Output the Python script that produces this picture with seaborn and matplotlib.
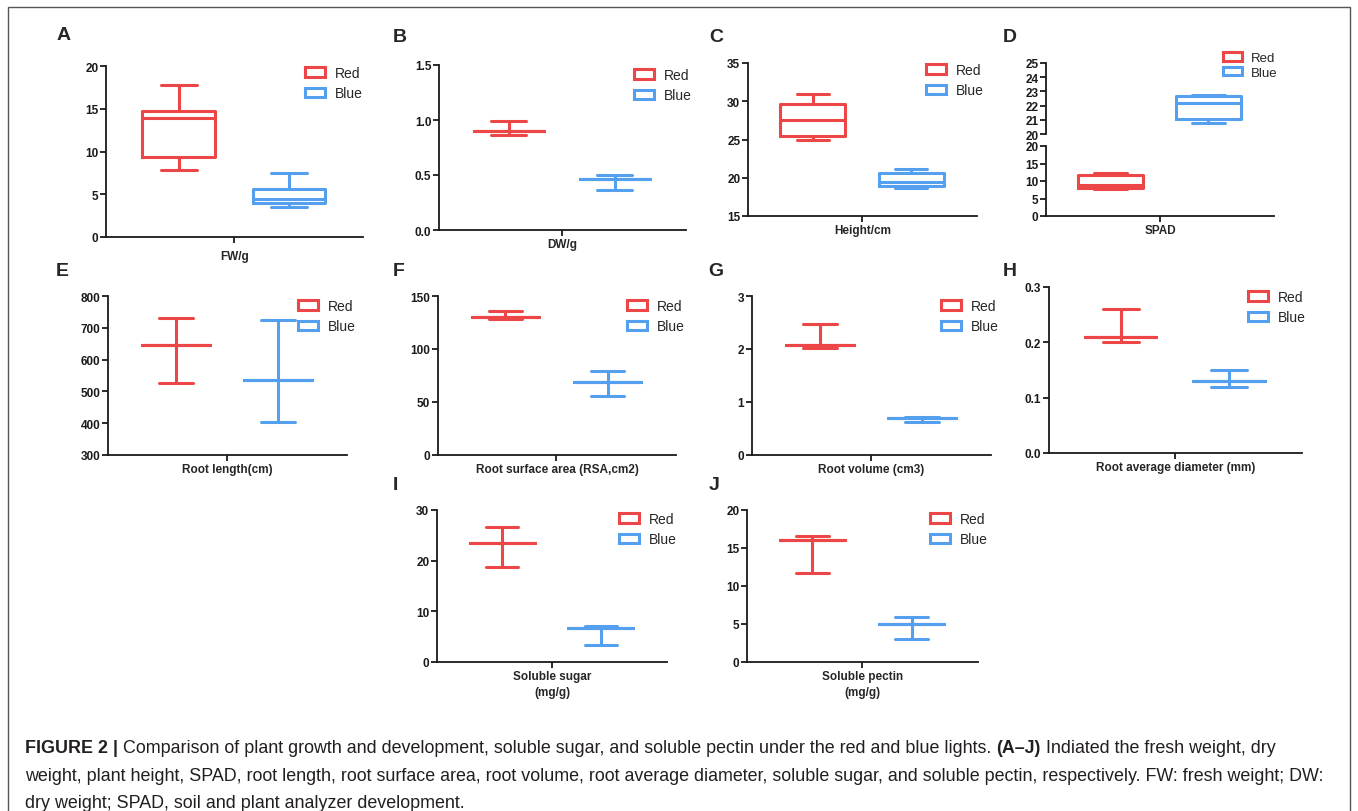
import pandas as pd
import seaborn as sns
import matplotlib.pyplot as plt
from matplotlib.patches import Patch, Rectangle

# Box panels: min, Q1, median, Q3, max
fw_red = [7.8, 9.35, 13.9, 14.7, 17.8]
fw_blue = [3.55, 4.0, 4.45, 5.6, 7.5]
height_red = [25.0, 25.4, 27.5, 29.6, 31.0]
height_blue = [18.7, 18.95, 19.45, 20.6, 21.1]
spad_red = [7.7, 7.9, 8.8, 11.6, 12.2]
spad_blue = [20.8, 21.05, 22.2, 22.65, 22.75]

# Range panels: low, mean, high
dw_red = [0.86, 0.90, 0.99]
dw_blue = [0.36, 0.46, 0.50]
length_red = [525, 646, 730]
length_blue = [405, 537, 723]
rsa_red = [128, 130, 136]
rsa_blue = [56, 68.5, 79.5]
volume_red = [2.01, 2.08, 2.48]
volume_blue = [0.62, 0.69, 0.71]
diam_red = [0.20, 0.21, 0.26]
diam_blue = [0.12, 0.13, 0.15]
sugar_red = [18.8, 23.5, 26.7]
sugar_blue = [3.3, 6.8, 7.1]
pectin_red = [11.7, 16.1, 16.6]
pectin_blue = [3.0, 5.0, 5.9]

groups = ["Red", "Blue"]
palette = {"Red": "#EC4646", "Blue": "#55A0EE"}

# letter, x label, red, blue, y limits, y ticks
panels = [
    ("A", "FW/g", fw_red, fw_blue, (0, 20), [0, 5, 10, 15, 20]),
    ("B", "DW/g", dw_red, dw_blue, (0, 1.5), [0.0, 0.5, 1.0, 1.5]),
    ("C", "Height/cm", height_red, height_blue, (15, 35), [15, 20, 25, 30, 35]),
    ("E", "Root length(cm)", length_red, length_blue, (300, 800), [300, 400, 500, 600, 700, 800]),
    ("F", "Root surface area (RSA,cm2)", rsa_red, rsa_blue, (0, 150), [0, 50, 100, 150]),
    ("G", "Root volume (cm3)", volume_red, volume_blue, (0, 3), [0, 1, 2, 3]),
    ("H", "Root average diameter (mm)", diam_red, diam_blue, (0, 0.3), [0.0, 0.1, 0.2, 0.3]),
    ("I", "Soluble sugar\n(mg/g)", sugar_red, sugar_blue, (0, 30), [0, 10, 20, 30]),
    ("J", "Soluble pectin\n(mg/g)", pectin_red, pectin_blue, (0, 20), [0, 5, 10, 15, 20]),
]

# layout in pixels: axes (left, right, top, bottom), legend (x, y), letter (x, y)
layout = {
    "A": ((106, 363, 67, 238), (305, 75), (57, 36)),
    "B": ((439, 686, 66, 231), (634, 77), (393, 37)),
    "C": ((748, 977, 64, 217), (926, 72), (709, 37)),
    "D": ((1046, 1274, 64, 217), (1223, 61), (1003, 37)),
    "E": ((108, 347, 297, 456), (298, 308), (56, 272)),
    "F": ((438, 676, 297, 456), (627, 308), (393, 272)),
    "G": ((752, 991, 297, 456), (941, 308), (708, 272)),
    "H": ((1049, 1302, 288, 454), (1248, 299), (1003, 272)),
    "I": ((437, 667, 511, 663), (619, 521), (393, 486)),
    "J": ((747, 978, 511, 663), (930, 521), (709, 486)),
}

W, H = 1358, 812

sns.set_theme(style="ticks")
plt.rcParams["font.family"] = ["Liberation Sans", "DejaVu Sans"]
plt.rcParams.update({
    "font.weight": "bold",
    "axes.linewidth": 1.3,
    "axes.edgecolor": "#1a1a1a",
    "xtick.major.width": 1.3,
    "ytick.major.width": 1.3,
    "xtick.major.size": 4,
    "ytick.major.size": 4,
    "ytick.major.pad": 1.5,
    "xtick.color": "#1a1a1a",
    "ytick.color": "#1a1a1a",
})


def make_frame(red, blue):
    # a range (low, mean, high) becomes a flat box at the mean
    if len(red) == 3:
        red = [red[0], red[1], red[1], red[1], red[2]]
        blue = [blue[0], blue[1], blue[1], blue[1], blue[2]]
    return pd.DataFrame({"light": ["Red"] * len(red) + ["Blue"] * len(blue),
                         "value": list(red) + list(blue)})


def add_axes(fig, l, r, t, b):
    return fig.add_axes([l / W, 1 - b / H, (r - l) / W, (b - t) / H])


def draw_box(ax, df):
    sns.boxplot(data=df, x="light", y="value", hue="light", order=groups,
                hue_order=groups, palette=palette, fill=False, width=0.66,
                whis=(0, 100), linewidth=2.2, legend=False, ax=ax)
    ax.set_xlim(-0.66, 1.67)
    ax.set_ylabel("")
    ax.set_xlabel("")
    sns.despine(ax=ax)
    ax.tick_params(labelsize=8.5)


def add_legend(ax, fig, pos, size=10, spacing=0.45):
    handles = [Patch(facecolor="white", edgecolor=palette[g], linewidth=2.2, label=g)
               for g in groups]
    ax.legend(handles=handles, loc="upper left",
              bbox_to_anchor=(pos[0] / W, 1 - (pos[1] - 8) / H),
              bbox_transform=fig.transFigure, frameon=False, borderpad=0,
              borderaxespad=0, handlelength=1.45, handleheight=0.65,
              handletextpad=0.7, labelspacing=spacing,
              prop={"weight": "normal", "size": size})


fig = plt.figure(figsize=(W / 100, H / 100), dpi=100)

for letter, xlabel, red, blue, ylim, yticks in panels:
    box, leg, lab = layout[letter]
    ax = add_axes(fig, *box)
    draw_box(ax, make_frame(red, blue))
    ax.set_ylim(*ylim)
    ax.set_yticks(yticks)
    ax.set_xticks([0.5])
    ax.set_xticklabels([""])
    ax.set_xlabel(xlabel, fontsize=8.5, fontweight="bold",
                  labelpad=2 if letter == "A" else -1.5, linespacing=1.4)
    add_legend(ax, fig, leg)
    fig.text(lab[0] / W, 1 - lab[1] / H, letter, fontsize=14, fontweight="bold",
             ha="left", va="center")

# D: broken y axis
(l, r, t, b), leg, lab = layout["D"]
df_spad = make_frame(spad_red, spad_blue)
ax_top = add_axes(fig, l, r, t, 135)
ax_bot = add_axes(fig, l, r, 147, b)
for ax in (ax_top, ax_bot):
    draw_box(ax, df_spad)
ax_top.set_ylim(20, 25)
ax_top.set_yticks([20, 21, 22, 23, 24, 25])
ax_top.spines["bottom"].set_visible(False)
ax_top.set_xticks([])
ax_bot.set_ylim(0, 20)
ax_bot.set_yticks([0, 5, 10, 15, 20])
ax_bot.set_xticks([0.5])
ax_bot.set_xticklabels([""])
ax_bot.set_xlabel("SPAD", fontsize=8.5, fontweight="bold", labelpad=-1.5)
add_legend(ax_top, fig, leg, size=9.5, spacing=0.2)
fig.text(lab[0] / W, 1 - lab[1] / H, "D", fontsize=14, fontweight="bold",
         ha="left", va="center")

# outer frame
fig.patches.append(Rectangle((8 / W, -0.1), 1342 / W, 1.1 - 8 / H,
                             transform=fig.transFigure, fill=False,
                             edgecolor="#555555", linewidth=1.0))

# caption
caption = [
    [("FIGURE 2 |", "bold"),
     (" Comparison of plant growth and development, soluble sugar, and soluble pectin under the red and blue lights. ", "normal"),
     ("(A–J)", "bold"),
     (" Indiated the fresh weight, dry", "normal")],
    [("weight, plant height, SPAD, root length, root surface area, root volume, root average diameter, soluble sugar, and soluble pectin, respectively. FW: fresh weight; DW:", "normal")],
    [("dry weight; SPAD, soil and plant analyzer development.", "normal")],
]
baselines = [753, 781, 808]
renderer = fig.canvas.get_renderer()
for runs, base in zip(caption, baselines):
    x = 25
    for text, weight in runs:
        t = fig.text(x / W, 1 - base / H, text, fontsize=12.9, fontweight=weight,
                     color="#231f20", ha="left", va="baseline")
        x += t.get_window_extent(renderer).width

fig.savefig("out.png", dpi=100)
